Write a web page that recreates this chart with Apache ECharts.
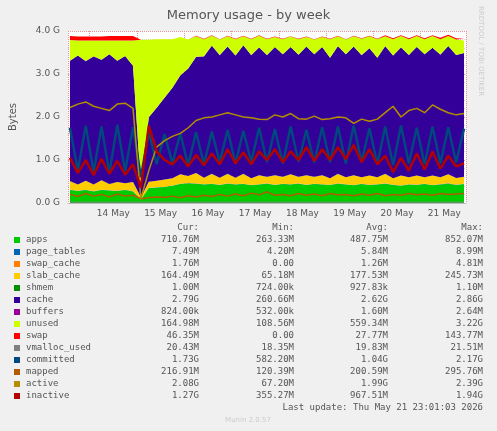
<!DOCTYPE html>
<html><head><meta charset="utf-8">
<script src="https://cdn.jsdelivr.net/npm/echarts@6/dist/echarts.min.js"></script>
<style>html,body{margin:0;background:#f0f0f0}#c{width:497px;height:431px}</style>
</head><body><div id="c"></div>
<script>
// samples every 4 hours from 13 May 14:00, values in GB
const apps = [0.30,0.28,0.30,0.27,0.30,0.29,0.28,0.30,0.27,0.08,
  0.35,0.36,0.37,0.40,0.44,0.46,0.45,0.43,0.44,0.42,0.45,0.43,0.44,0.41,0.43,0.45,0.42,0.44,0.43,0.45,
  0.42,0.44,0.43,0.42,0.45,0.43,0.41,0.44,0.42,0.43,0.45,0.42,0.40,0.43,0.42,0.44,0.41,0.43,0.45,0.42,0.44];
const pageTables = [0.006,0.006,0.006,0.006,0.006,0.006,0.006,0.006,0.006,0.004,0.005,0.005,0.006,0.006,0.006,0.006,0.006,0.006,0.006,0.006,0.006,0.006,0.006,0.006,0.006,0.006,0.006,0.006,0.006,0.006,0.006,0.006,0.006,0.006,0.006,0.006,0.006,0.006,0.006,0.006,0.006,0.006,0.006,0.006,0.006,0.006,0.006,0.007,0.007,0.007,0.007];
const swapCache = [0.002,0.002,0.002,0.002,0.002,0.002,0.002,0.002,0.002,0,0,0,0,0.001,0.001,0.001,0.001,0.001,0.001,0.001,0.001,0.001,0.001,0.001,0.001,0.001,0.001,0.001,0.001,0.001,0.001,0.001,0.001,0.001,0.001,0.001,0.001,0.001,0.001,0.001,0.001,0.001,0.002,0.002,0.002,0.002,0.002,0.002,0.002,0.002,0.002];
const slabCache = [0.20,0.14,0.21,0.15,0.22,0.14,0.20,0.15,0.21,0.05,
  0.14,0.15,0.17,0.17,0.22,0.16,0.24,0.15,0.23,0.16,0.22,0.15,0.23,0.16,0.21,0.15,0.22,0.16,0.23,0.15,
  0.22,0.16,0.21,0.15,0.22,0.16,0.23,0.15,0.21,0.16,0.22,0.15,0.23,0.16,0.21,0.15,0.22,0.16,0.21,0.15,0.16];
const shmem = [0.001,0.001,0.001,0.001,0.001,0.001,0.001,0.001,0.001,0.001,0.001,0.001,0.001,0.001,0.001,0.001,0.001,0.001,0.001,0.001,0.001,0.001,0.001,0.001,0.001,0.001,0.001,0.001,0.001,0.001,0.001,0.001,0.001,0.001,0.001,0.001,0.001,0.001,0.001,0.001,0.001,0.001,0.001,0.001,0.001,0.001,0.001,0.001,0.001,0.001,0.001];
const cache = [2.80,3.00,2.78,2.98,2.80,3.02,2.82,2.96,2.70,0.26,
  1.50,1.70,1.90,2.10,2.30,2.50,2.70,2.82,2.98,2.85,2.96,2.84,2.99,2.86,2.97,2.83,2.98,2.85,2.96,2.84,
  2.99,2.85,2.98,2.80,2.97,2.86,2.99,2.84,2.96,2.78,2.97,2.85,2.98,2.84,2.99,2.86,2.97,2.85,2.98,2.86,2.88];
const buffers = [0.002,0.002,0.002,0.002,0.002,0.002,0.002,0.002,0.002,0.001,0.001,0.001,0.001,0.001,0.001,0.002,0.002,0.002,0.002,0.002,0.002,0.002,0.002,0.002,0.002,0.002,0.002,0.002,0.002,0.002,0.002,0.002,0.002,0.002,0.002,0.002,0.002,0.002,0.002,0.002,0.002,0.002,0.002,0.002,0.002,0.002,0.002,0.001,0.001,0.001,0.001];
const unused = [0.48,0.35,0.48,0.37,0.45,0.32,0.47,0.36,0.59,3.40,
  1.80,1.59,1.36,1.13,0.89,0.67,0.48,0.40,0.23,0.36,0.24,0.38,0.21,0.37,0.27,0.37,0.23,0.35,0.24,0.36,
  0.22,0.34,0.23,0.43,0.23,0.34,0.24,0.38,0.28,0.43,0.23,0.38,0.26,0.37,0.25,0.35,0.27,0.36,0.23,0.36,0.29];
const swap = [0.09,0.09,0.09,0.09,0.09,0.10,0.10,0.10,0.10,0,
  0,0,0,0,0,0,0.01,0.01,0.01,0.01,0.01,0.01,0.01,0.01,0.01,0.01,0.01,0.01,0.01,0.01,
  0.01,0.01,0.01,0.01,0.01,0.01,0.01,0.01,0.01,0.01,0.02,0.02,0.02,0.02,0.02,0.02,0.02,0.03,0.03,0.03,0.04];
const vmallocUsed = [0.02,0.02,0.02,0.02,0.02,0.02,0.02,0.02,0.02,0.02,0.02,0.02,0.02,0.02,0.02,0.02,0.02,0.02,0.02,0.02,0.02,0.02,0.02,0.02,0.02,0.02,0.02,0.02,0.02,0.02,0.02,0.02,0.02,0.02,0.02,0.02,0.02,0.02,0.02,0.02,0.02,0.02,0.02,0.02,0.02,0.02,0.02,0.02,0.02,0.02,0.02];
const committed = [1.75,0.75,1.80,0.72,1.78,0.70,1.82,0.74,1.76,0.60,
  1.65,0.90,1.60,0.92,1.62,0.88,1.65,0.90,1.66,0.95,1.70,0.92,1.68,0.96,1.75,0.95,1.72,0.92,1.78,0.96,
  1.70,0.94,1.76,0.95,1.78,0.92,1.80,0.96,1.74,0.90,1.78,0.88,1.80,0.92,1.75,0.90,1.78,0.92,1.76,0.94,1.73];
const mapped = [0.20,0.15,0.22,0.16,0.20,0.14,0.21,0.16,0.18,0.10,
  0.12,0.14,0.13,0.16,0.12,0.17,0.14,0.18,0.15,0.20,0.16,0.21,0.17,0.23,0.19,0.26,0.18,0.20,0.17,0.22,
  0.18,0.21,0.17,0.22,0.19,0.20,0.17,0.21,0.18,0.22,0.17,0.20,0.18,0.22,0.19,0.21,0.18,0.22,0.20,0.21,0.22];
const active = [2.22,2.30,2.35,2.25,2.20,2.15,2.30,2.32,2.20,0.10,
  0.75,1.30,1.45,1.55,1.62,1.75,1.92,1.98,2.00,2.05,2.10,2.05,2.00,1.98,1.95,1.94,2.05,2.00,2.08,1.96,
  1.95,2.02,1.94,1.96,2.00,1.98,1.85,1.95,1.90,1.95,2.10,2.25,2.00,2.15,2.20,2.10,2.28,2.18,2.10,2.05,2.08];
const inactive = [1.05,0.70,1.00,0.65,1.02,0.68,0.98,0.66,0.90,0.35,
  1.80,1.20,1.00,0.90,1.10,0.85,1.12,0.88,1.15,0.90,1.25,0.92,1.18,0.90,1.20,1.00,1.25,0.95,1.20,1.00,
  1.30,0.98,1.25,1.00,1.30,1.02,1.35,0.95,1.25,0.90,1.10,0.72,1.05,0.75,1.15,0.78,1.20,0.80,1.10,0.85,0.92];

const legendRows = [
  ['apps','#00CC00','710.76M','263.33M','487.75M','852.07M'],
  ['page_tables','#0066B3','7.49M','4.20M','5.84M','8.99M'],
  ['swap_cache','#FF8000','1.76M','0.00','1.26M','4.81M'],
  ['slab_cache','#FFCC00','164.49M','65.18M','177.53M','245.73M'],
  ['shmem','#008F00','1.00M','724.00k','927.83k','1.10M'],
  ['cache','#330099','2.79G','260.66M','2.62G','2.86G'],
  ['buffers','#990099','824.00k','532.00k','1.60M','2.64M'],
  ['unused','#CCFF00','164.98M','108.56M','559.34M','3.22G'],
  ['swap','#FF0000','46.35M','0.00','27.77M','143.77M'],
  ['vmalloc_used','#808080','20.43M','18.35M','19.83M','21.51M'],
  ['committed','#00487D','1.73G','582.20M','1.04G','2.17G'],
  ['mapped','#B35A00','216.91M','120.39M','200.59M','295.76M'],
  ['active','#B38F00','2.08G','67.20M','1.99G','2.39G'],
  ['inactive','#B30000','1.27G','355.27M','967.51M','1.94G']
];

const G = 1024 * 1024 * 1024;
const t0 = new Date(2026, 4, 13, 14).getTime();
const tMin = new Date(2026, 4, 13, 13).getTime();
const tMax = new Date(2026, 4, 21, 23).getTime();
const H = 3600 * 1000;
const pts = arr => arr.map((v, i) => [t0 + i * 4 * H, v * G]);

const areaSpec = [['apps',apps],['page_tables',pageTables],['swap_cache',swapCache],['slab_cache',slabCache],
  ['shmem',shmem],['cache',cache],['buffers',buffers],['unused',unused],['swap',swap]];
const lineSpec = [['vmalloc_used',vmallocUsed,1],['committed',committed,2.5],['mapped',mapped,1.5],
  ['active',active,1.5],['inactive',inactive,2.5]];
const colorOf = {};
legendRows.forEach(r => colorOf[r[0]] = r[1]);

const series = [];
areaSpec.forEach(([n, d]) => series.push({
  name: n, type: 'line', stack: 'mem', data: pts(d), symbol: 'none',
  lineStyle: { width: 0 }, areaStyle: { color: colorOf[n], opacity: 1 }, color: colorOf[n]
}));
lineSpec.forEach(([n, d, w]) => series.push({
  name: n, type: 'line', data: pts(d), symbol: 'none',
  lineStyle: { width: w, color: colorOf[n] }, color: colorOf[n]
}));

const mono = 'DejaVu Sans Mono';
const graphic = [];
const cols = [199, 294, 388, 483];
['Cur:', 'Min:', 'Avg:', 'Max:'].forEach((h, k) => graphic.push({ type: 'text', x: cols[k], y: 223,
  style: { text: h, font: '9px ' + mono, fill: '#555', align: 'right' } }));
legendRows.forEach((r, i) => {
  const y = 235 + i * 12;
  graphic.push({ type: 'rect', shape: { x: 14, y: y + 2, width: 6, height: 6 }, style: { fill: r[1] } });
  graphic.push({ type: 'text', x: 26, y: y, style: { text: r[0], font: '9px ' + mono, fill: '#555' } });
  for (let k = 0; k < 4; k++) graphic.push({ type: 'text', x: cols[k], y: y,
    style: { text: r[k + 2], font: '9px ' + mono, fill: '#555', align: 'right' } });
});
graphic.push({ type: 'text', x: 483, y: 403, style: { text: 'Last update: Thu May 21 23:01:03 2026', font: '9px ' + mono, fill: '#555', align: 'right' } });
graphic.push({ type: 'text', x: 248, y: 417, style: { text: 'Munin 2.0.57', font: '7px DejaVu Sans', fill: '#ccc', align: 'center' } });
graphic.push({ type: 'text', x: 484, y: 6, rotation: -Math.PI / 2, style: { text: 'RRDTOOL / TOBI OETIKER', font: '7px DejaVu Sans', fill: '#ccc' } });

const chart = echarts.init(document.getElementById('c'));
chart.setOption({
  backgroundColor: '#f0f0f0',
  animation: false,
  title: { text: 'Memory usage - by week', left: 'center', top: 4,
    textStyle: { fontFamily: 'DejaVu Sans', fontSize: 13, fontWeight: 'normal', color: '#555' } },
  grid: { left: 67, right: 31, top: 31, bottom: 228, backgroundColor: '#fff', show: true, borderWidth: 0 },
  xAxis: [{
    type: 'time', min: tMin, max: tMax, splitNumber: 9,
    axisLabel: { show: false }, axisTick: { show: false },
    axisLine: { lineStyle: { color: '#bbb' } },
    splitLine: { show: true, lineStyle: { color: '#f09090', type: 'dotted' } }
  }, {
    type: 'time', min: tMin - 12 * H, max: tMax - 12 * H, position: 'bottom', splitNumber: 9,
    axisLine: { show: false }, axisTick: { show: false }, splitLine: { show: false },
    axisLabel: { fontFamily: 'DejaVu Sans', fontSize: 9, color: '#555', margin: 6,
      formatter: v => new Date(v).getDate() + ' May' }
  }],
  yAxis: {
    type: 'value', min: 0, max: 4 * G, interval: G, name: 'Bytes', nameLocation: 'middle', nameGap: 50,
    nameTextStyle: { fontFamily: 'DejaVu Sans', fontSize: 10, color: '#555' },
    axisLine: { show: false }, axisTick: { show: false },
    axisLabel: { fontFamily: 'DejaVu Sans', fontSize: 9, color: '#555', formatter: v => (v / G).toFixed(1) + ' G' },
    splitLine: { lineStyle: { color: '#f09090', type: 'dotted' } },
    minorTick: { show: false, splitNumber: 5 },
    minorSplitLine: { show: true, lineStyle: { color: '#e6c8c8', type: 'dotted' } }
  },
  series: series,
  graphic: graphic
});
</script></body></html>
